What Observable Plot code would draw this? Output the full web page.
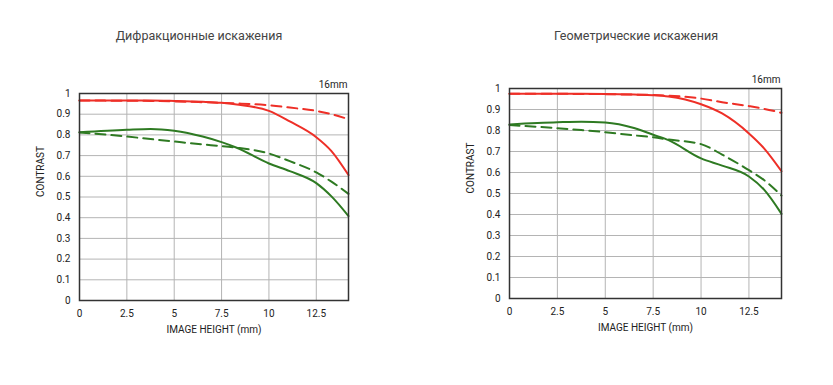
<!DOCTYPE html>
<html>
<head>
<meta charset="utf-8">
<script src="https://cdn.jsdelivr.net/npm/d3@7"></script>
<script src="https://cdn.jsdelivr.net/npm/@observablehq/plot@0.6"></script>
<style>
  html, body { margin: 0; padding: 0; background: #fff; }
  #wrap { position: relative; width: 833px; height: 385px; overflow: hidden; font-family: Roboto, "Liberation Sans", sans-serif; }
  .title { position: absolute; top: 28px; width: 300px; text-align: center; font-size: 12.5px; color: #444; }
  .chart { position: absolute; top: 60px; }
</style>
</head>
<body>
<div id="wrap">
  <div class="title" style="left:49px">Дифракционные искажения</div>
  <div class="title" style="left:486px">Геометрические искажения</div>
  <div class="chart" id="c1" style="left:0px"></div>
  <div class="chart" id="c2" style="left:430px"></div>
</div>
<script>
// ---- data ----
const xTicks = [0, 2.5, 5, 7.5, 10, 12.5];
const yTicks = [0, 0.1, 0.2, 0.3, 0.4, 0.5, 0.6, 0.7, 0.8, 0.9, 1];
const xMm = [0, 2.5, 3.75, 5, 6.5, 7.5, 8.3, 10, 11.1, 12.5, 13.3, 14.2];
const focalLabel = "16mm";
const yLabel = "CONTRAST";
const xLabel = "IMAGE HEIGHT (mm)";

// Diffraction chart
const diffRedSolid   = [0.966, 0.966, 0.966, 0.964, 0.960, 0.955, 0.947, 0.916, 0.865, 0.789, 0.722, 0.606];
const diffRedDashed  = [0.966, 0.965, 0.964, 0.962, 0.958, 0.955, 0.952, 0.943, 0.932, 0.916, 0.900, 0.876];
const diffGreenSolid = [0.813, 0.825, 0.829, 0.820, 0.792, 0.765, 0.738, 0.662, 0.625, 0.567, 0.503, 0.408];
const diffGreenDashed= [0.812, 0.792, 0.780, 0.768, 0.754, 0.746, 0.738, 0.710, 0.673, 0.619, 0.574, 0.515];

// Geometric chart
const geoRedSolid    = [0.975, 0.975, 0.975, 0.974, 0.971, 0.968, 0.962, 0.925, 0.881, 0.786, 0.714, 0.606];
const geoRedDashed   = [0.975, 0.975, 0.974, 0.973, 0.971, 0.969, 0.966, 0.952, 0.935, 0.916, 0.903, 0.884];
const geoGreenSolid  = [0.829, 0.839, 0.842, 0.838, 0.812, 0.780, 0.754, 0.667, 0.633, 0.581, 0.517, 0.403];
const geoGreenDashed = [0.826, 0.811, 0.802, 0.792, 0.777, 0.768, 0.757, 0.735, 0.685, 0.611, 0.563, 0.490];

const RED = "#ee2f27", GREEN = "#2e7a22";

function series(vals) { return xMm.map((x, i) => ({x, y: vals[i]})); }

function chart(sets, mr, mt, mb) {
  const lines = sets.map(([vals, color, dashed]) =>
    Plot.line(series(vals), {x: "x", y: "y", stroke: color, strokeWidth: 2,
      strokeDasharray: dashed ? "10,6" : null, curve: "monotone-x"}));
  return Plot.plot({
    width: 400, height: 290,
    marginLeft: 79, marginRight: mr, marginTop: mt, marginBottom: mb,
    style: {fontFamily: "Roboto, 'Liberation Sans', sans-serif", fontSize: "10px", color: "#222", background: "transparent"},
    x: {domain: [0, 14.2]},
    y: {domain: [0, 1]},
    marks: [
      Plot.gridX(xTicks, {stroke: "#b4b4b4", strokeOpacity: 1}),
      Plot.gridY(yTicks, {stroke: "#b4b4b4", strokeOpacity: 1}),
      Plot.axisX(xTicks, {tickSize: 0, tickPadding: 9, label: null, tickFormat: d => String(d)}),
      Plot.axisY(yTicks, {tickSize: 0, tickPadding: 9, label: null, tickFormat: d => String(d)}),
      ...lines,
      Plot.frame({stroke: "#333", strokeWidth: 1.5}),
      Plot.text([focalLabel], {frameAnchor: "top-right", textAnchor: "end", dy: -13, dx: -1, fill: "#222"}),
      Plot.text([yLabel], {frameAnchor: "left", dx: -39, rotate: -90, fill: "#222"}),
      Plot.text([xLabel], {frameAnchor: "bottom", dy: 32, fill: "#222"})
    ]
  });
}

document.getElementById("c1").append(chart([
  [diffRedSolid, RED, false], [diffRedDashed, RED, true],
  [diffGreenSolid, GREEN, false], [diffGreenDashed, GREEN, true]
], 52, 33, 50));

document.getElementById("c2").append(chart([
  [geoRedSolid, RED, false], [geoRedDashed, RED, true],
  [geoGreenSolid, GREEN, false], [geoGreenDashed, GREEN, true]
], 49, 28, 52));
</script>
</body>
</html>
